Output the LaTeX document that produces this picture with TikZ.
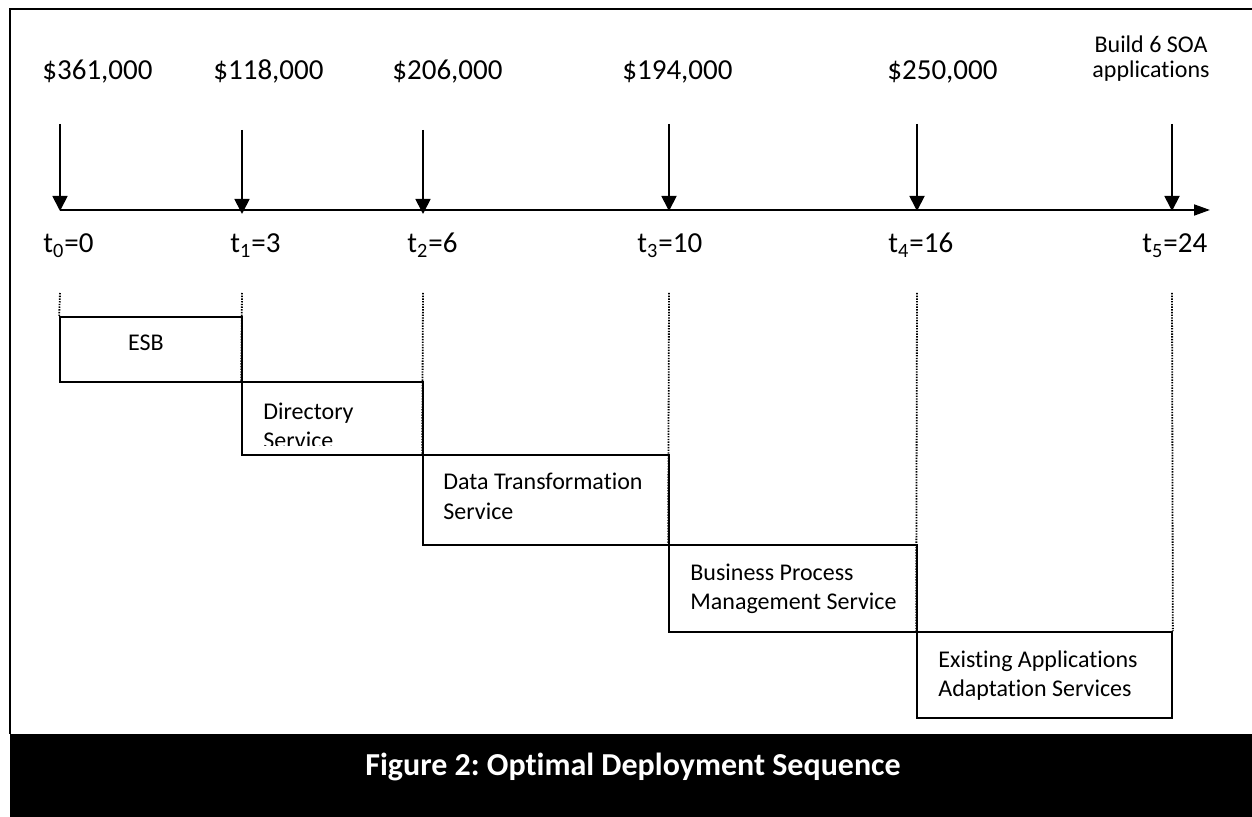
\documentclass[tikz,border=0pt]{standalone}
\usepackage{fontspec}
\setmainfont{Carlito}[Ligatures=CommonOff]
\usetikzlibrary{arrows.meta}
\frenchspacing

\begin{document}
\begin{tikzpicture}[x=0.5pt,y=-0.5pt,
  frame/.style={line width=1pt},
  axisline/.style={line width=0.9pt,-{Triangle[length=8pt,width=5.5pt]}},
  payment/.style={line width=0.9pt,-{Triangle[length=7.5pt,width=7.5pt]}},
  guide/.style={line width=0.9pt,dash pattern=on 0.7pt off 0.65pt},
  stage/.style={draw,line width=0.85pt,rectangle,inner sep=0pt},
  amount/.style={font=\fontsize{14.5}{17}\selectfont,inner sep=0pt,anchor=base west},
  timelabel/.style={font=\fontsize{14.5}{17}\selectfont,inner sep=0pt,anchor=base west},
  stagetext/.style={font=\fontsize{12}{14.5}\selectfont,align=left,inner sep=0pt,anchor=base west},
]
\useasboundingbox (0,0) rectangle (1252,817);

% outer frame and caption band
\draw[frame] (1252,9) -- (10,9) -- (10,734);
\fill[black] (10,734) rectangle (1252,817);
\node[font=\fontsize{16}{19}\selectfont\bfseries,text=white,inner sep=0pt,anchor=base]
  (caption) at (633,775) {Figure 2: Optimal Deployment Sequence};

% time axis
\coordinate (origin) at (60,210);
\coordinate (axisend) at (1210,210);
\draw[axisline] (origin) -- (axisend);

% payment arrows
\coordinate (p0) at (60,124);   \coordinate (k0) at (60,211);
\coordinate (p1) at (242,130);  \coordinate (k1) at (242,214);
\coordinate (p2) at (423,130);  \coordinate (k2) at (423,214);
\coordinate (p3) at (669,124);  \coordinate (k3) at (669,211);
\coordinate (p4) at (917,124);  \coordinate (k4) at (917,211);
\coordinate (p5) at (1172,124); \coordinate (k5) at (1172,211);
\foreach \i in {0,...,5} { \draw[payment] (p\i) -- (k\i); }

% amounts (multi-line nodes are placed by the baseline of their last line)
\node[amount] (c0) at (42,80)  {\$361,000};
\node[amount] (c1) at (213,80) {\$118,000};
\node[amount] (c2) at (392,80) {\$206,000};
\node[amount] (c3) at (622,80) {\$194,000};
\node[amount] (c4) at (887,80) {\$250,000};
\node[font=\fontsize{12}{12.5}\selectfont,align=center,inner sep=0pt,anchor=base]
  (c5) at (1151,78) {Build 6 SOA\\applications};

% time labels
\node[timelabel] (t0) at (43,253)   {t\textsubscript{0}=0};
\node[timelabel] (t1) at (230,253)  {t\textsubscript{1}=3};
\node[timelabel] (t2) at (407,253)  {t\textsubscript{2}=6};
\node[timelabel] (t3) at (637,253)  {t\textsubscript{3}=10};
\node[timelabel] (t4) at (888,253)  {t\textsubscript{4}=16};
\node[timelabel] (t5) at (1142,253) {t\textsubscript{5}=24};

% deployment stages
\node[stage,minimum width=91pt,minimum height=32.5pt]   (esb)   at (151,349.5)  {};
\node[stage,minimum width=90.5pt,minimum height=36.5pt] (dir)   at (332.5,418.5) {};
\node[stage,minimum width=123pt,minimum height=45pt]    (data)  at (546,500)    {};
\node[stage,minimum width=124pt,minimum height=43.5pt]  (bpm)   at (793,588.5)  {};
\node[stage,minimum width=127.5pt,minimum height=43pt]  (exist) at (1044.5,675) {};

% guide lines from the axis down to the stages
\coordinate (g0) at (60,293);
\coordinate (g1) at (242,293);
\coordinate (g2) at (423,293);
\coordinate (g3) at (669,293);
\coordinate (g4) at (917,293);
\coordinate (g5) at (1172,293);
\draw[guide] (g0) -- (esb.north west);
\draw[guide] (g1) -- (dir.north west);
\draw[guide] (g2) -- (data.north west);
\draw[guide] (g3) -- (bpm.north west);
\draw[guide] (g4) -- (exist.north west);
\draw[guide] (g5) -- (exist.north east);

% stage labels
\node[stagetext,anchor=base] (esbtext) at (146,351) {ESB};
\begin{scope}
  \clip (242,382) rectangle (423,446);
  \node[stagetext] (dirtext) at (263,449) {Directory\\Service};
\end{scope}
\node[stagetext] (datatext)  at (443,519) {Data Transformation\\Service};
\node[stagetext] (bpmtext)   at (690,609) {Business Process\\Management Service};
\node[stagetext] (existtext) at (938,696) {Existing Applications\\Adaptation Services};

\end{tikzpicture}
\end{document}
